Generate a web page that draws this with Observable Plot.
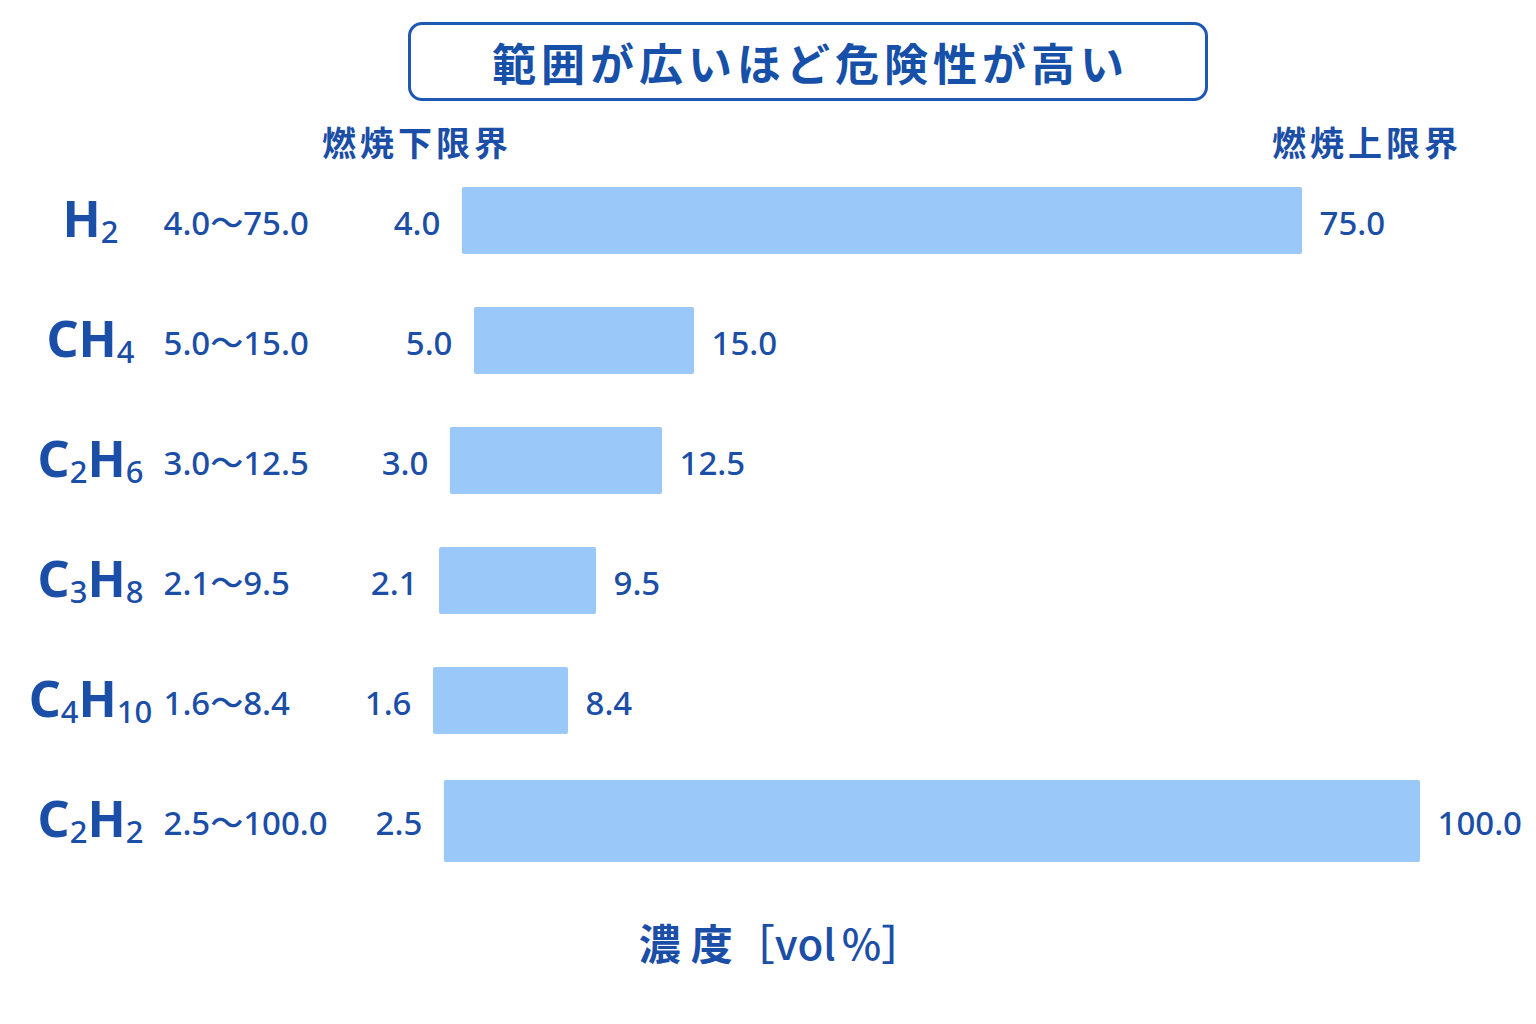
<!DOCTYPE html>
<html>
<head>
<meta charset="utf-8">
<script src="https://cdn.jsdelivr.net/npm/d3@7"></script>
<script src="https://cdn.jsdelivr.net/npm/@observablehq/plot@0.6"></script>
<style>
  html, body { margin: 0; padding: 0; background: #ffffff; }
  body { width: 1536px; height: 1024px; position: relative; overflow: hidden; color: #1b4ea6; font-family: "Noto Sans", "Noto Sans CJK JP", sans-serif; }
  #title { position: absolute; left: 408px; top: 22px; width: 800px; height: 79px; box-sizing: border-box;
           border: 3px solid #1d58b2; border-radius: 14px; display: flex; align-items: center; justify-content: center;
           font-family: "Noto Sans CJK JP", sans-serif; font-weight: 700; font-size: 44px; letter-spacing: 5px; padding-left: 5px; color: #1650a8; }
  .colhead { position: absolute; top: 124px; font-family: "Noto Sans CJK JP", sans-serif; font-weight: 700; font-size: 34px; line-height: 36px; letter-spacing: 4px; color: #1b4ea6; }
  #chart { position: absolute; left: 0; top: 170px; }
  #caption { position: absolute; top: 918px; left: 13px; width: 1536px; text-align: center; font-family: "Noto Sans CJK JP", sans-serif; font-weight: 700; font-size: 42px; line-height: 48px; color: #1b4ea6; }
  #caption .unit { font-weight: 500; }
</style>
</head>
<body>
<div id="title">範囲が広いほど危険性が高い</div>
<div class="colhead" style="left:322px">燃焼下限界</div>
<div class="colhead" style="left:1272px">燃焼上限界</div>
<div id="chart"></div>
<div id="caption"><span style="letter-spacing:10px">濃</span>度<span class="unit">［vo<span style="letter-spacing:6px">l</span>%］</span></div>
<script>
// ---- data ----
const gases = ["H2", "CH4", "C2H6", "C3H8", "C4H10", "C2H2"];
const formulas = ["H₂", "CH₄", "C₂H₆", "C₃H₈", "C₄H₁₀", "C₂H₂"];
const lowerLimit = [4.0, 5.0, 3.0, 2.1, 1.6, 2.5];
const upperLimit = [75.0, 15.0, 12.5, 9.5, 8.4, 100.0];

const rows = gases.map((g, i) => ({
  gas: g,
  formula: formulas[i],
  lo: lowerLimit[i],
  hi: upperLimit[i],
  range: `${lowerLimit[i].toFixed(1)}〜${upperLimit[i].toFixed(1)}`
}));

const textColor = "#1b4ea6";
const barColor = "#9ac8f8";
const numFont = "'Noto Sans', 'Noto Sans CJK JP', sans-serif";

const chart = Plot.plot({
  width: 1536,
  height: 700,
  marginTop: 5,
  marginBottom: 3,
  marginLeft: 0,
  marginRight: 0,
  x: {
    type: "linear",
    domain: [0, 1.6, 5, 8.4, 9.5, 12.5, 15, 75, 100],
    range: [415, 433, 474, 568, 596, 662, 694, 1302, 1420],
    axis: null
  },
  y: { type: "band", domain: gases, paddingInner: 0.44, paddingOuter: 0.1, axis: null },
  style: { background: "transparent", fontFamily: numFont, color: textColor, overflow: "visible" },
  marks: [
    Plot.barX(rows.filter(d => d.gas !== "C2H2"), { y: "gas", x1: "lo", x2: "hi", fill: barColor, rx: 2 }),
    Plot.barX(rows.filter(d => d.gas === "C2H2"), { y: "gas", x1: "lo", x2: "hi", fill: barColor, rx: 2, insetTop: -7, insetBottom: -8 }),
    Plot.text(rows, { y: "gas", text: "formula", frameAnchor: "left", dx: 90, textAnchor: "middle", fontSize: 50, fontWeight: 700, fill: textColor }),
    Plot.text(rows, { y: "gas", text: "range", frameAnchor: "left", dx: 163, dy: 3, textAnchor: "start", fontSize: 33, fontWeight: 500, fill: textColor }),
    Plot.text(rows, { y: "gas", x: "lo", text: d => d.lo.toFixed(1), textAnchor: "end", dx: -22, dy: 3, fontSize: 33, fontWeight: 500, fill: textColor }),
    Plot.text(rows, { y: "gas", x: "hi", text: d => d.hi.toFixed(1), textAnchor: "start", dx: 17, dy: 3, fontSize: 33, fontWeight: 500, fill: textColor })
  ]
});

// Render Unicode subscript digits as real subscripts (smaller, lighter, lowered tspans)
const subMap = { "₀": "0", "₁": "1", "₂": "2", "₃": "3", "₄": "4", "₅": "5", "₆": "6", "₇": "7", "₈": "8", "₉": "9" };
d3.select(chart).selectAll("text").each(function () {
  const t = this.textContent;
  if (!/[₀-₉]/.test(t) || this.querySelector("tspan")) return;
  const parts = t.match(/[₀-₉]+|[^₀-₉]+/g);
  this.textContent = "";
  let shifted = false;
  for (const p of parts) {
    const ts = document.createElementNS("http://www.w3.org/2000/svg", "tspan");
    if (/[₀-₉]/.test(p)) {
      ts.textContent = p.replace(/[₀-₉]/g, c => subMap[c]);
      ts.setAttribute("font-size", "31");
      ts.setAttribute("font-weight", "500");
      ts.setAttribute("dy", "6");
      shifted = true;
    } else {
      ts.textContent = p;
      if (shifted) { ts.setAttribute("dy", "-6"); shifted = false; }
    }
    this.appendChild(ts);
  }
});

document.getElementById("chart").appendChild(chart);
</script>
</body>
</html>
